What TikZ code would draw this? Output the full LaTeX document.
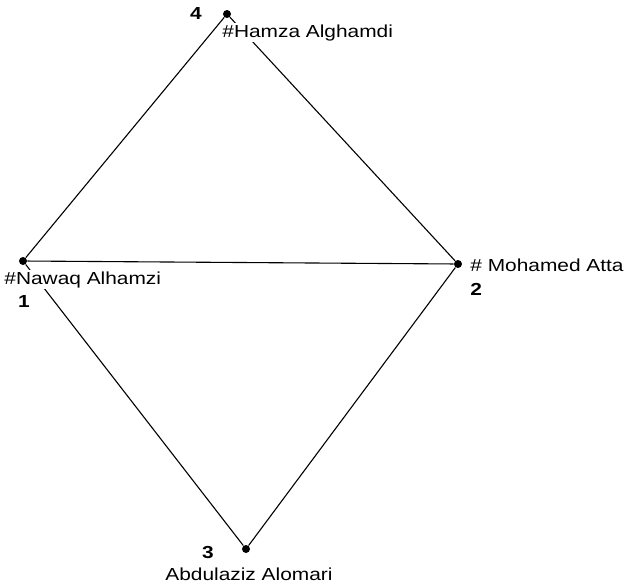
\documentclass[tikz,border=0pt]{standalone}
\usepackage{graphicx}
\usepackage{fontspec}
\setmainfont{Liberation Sans}
\usetikzlibrary{positioning}
\newcommand{\wide}[1]{\scalebox{1.2}[1]{#1}}

\begin{document}
\begin{tikzpicture}[
  x=0.5pt,y=-0.5pt,
  actor/.style={circle,fill=black,inner sep=0pt,minimum size=4pt},
  tie/.style={black,line width=0.55pt},
  lbl/.style={fill=white,inner sep=0.5pt,font=\fontsize{8.7}{10}\selectfont},
  numlbl/.style={inner sep=0pt,font=\fontsize{8.7}{10}\selectfont\bfseries}]

\useasboundingbox (0,0) rectangle (626,584);

% actors
\node[actor] (n1) at (23,261) {};
\node[actor] (n2) at (458,264) {};
\node[actor] (n3) at (246,549) {};
\node[actor] (n4) at (227,14) {};

% ties
\draw[tie] (n4) -- (n1);
\draw[tie] (n4) -- (n2);
\draw[tie] (n1) -- (n2);
\draw[tie] (n1) -- (n3);
\draw[tie] (n3) -- (n2);

% names
\node[lbl,anchor=base west] (l4) at (221,37) {\wide{\#Hamza Alghamdi}};
\node[lbl,anchor=base west] (l1) at (3,284) {\wide{\#Nawaq Alhamzi}};
\node[lbl,anchor=base west] (l2) at (469,271) {\wide{\# Mohamed Atta}};
\node[lbl,anchor=base west] (l3) at (164,580) {\wide{Abdulaziz Alomari}};

% numbers
\node[numlbl,anchor=base] (k4) at (196,19) {\wide{4}};
\node[numlbl,anchor=base] (k1) at (24,307) {\wide{1}};
\node[numlbl,anchor=base west] (k2) at (470,295) {\wide{2}};
\node[numlbl,anchor=base] (k3) at (208,558) {\wide{3}};
\end{tikzpicture}
\end{document}
